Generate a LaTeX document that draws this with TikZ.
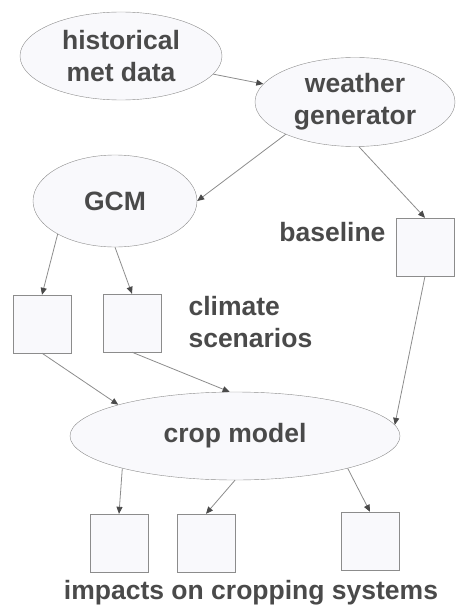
\documentclass[tikz,border=0pt]{standalone}
\usepackage{fontspec}
\setmainfont{Liberation Sans}
\usepackage{tikz}
\usetikzlibrary{shapes.geometric,arrows.meta}
\definecolor{txtgray}{HTML}{4A4A4A}
\definecolor{linegray}{HTML}{8C8C8C}
\definecolor{boxfill}{HTML}{F9F9FC}

\begin{document}
\begin{tikzpicture}[x=1pt,y=-1pt,
    every node/.style={font=\fontsize{26.5}{32}\selectfont\bfseries,text=txtgray},
    blob/.style={ellipse,draw=linegray,fill=boxfill,inner sep=0pt,align=center},
    sbox/.style={rectangle,draw=linegray,fill=boxfill,minimum width=58pt,minimum height=58pt,inner sep=0pt}]
  \useasboundingbox (0,0) rectangle (456,607);
  \node[blob,minimum width=202pt,minimum height=88pt] (hist) at (121,56) {historical\\met data};
  \node[blob,minimum width=200pt,minimum height=89pt] (wgen) at (355,102) {weather\\generator};
  \node[blob,minimum width=164pt,minimum height=92pt] (gcm) at (115,201) {GCM};
  \node[sbox] (base) at (425,247) {};
  \node[anchor=east] (baselbl) at (389,232) {baseline};
  \node[sbox] (clim1) at (42,324) {};
  \node[sbox] (clim2) at (132,323) {};
  \node[anchor=west,align=left] (climlbl) at (185,322) {climate\\scenarios};
  \node[blob,minimum width=330pt,minimum height=88pt] (crop) at (235,436) {crop model};
  \node[sbox] (imp1) at (119,543) {};
  \node[sbox] (imp2) at (206,543) {};
  \node[sbox] (imp3) at (370,541) {};
  \node (implbl) at (251,593) {impacts on cropping systems};
  \path[-{Triangle[length=7pt,width=6pt,color=txtgray]},color=linegray,line width=0.8pt]
    (hist) edge (wgen)
    (wgen.205) edge (gcm.east)
    (wgen.-85) edge (base.north)
    (gcm.210) edge (clim1.north)
    (gcm.south) edge (clim2.north)
    (clim1.south) edge (crop.165)
    (clim2.south) edge (crop.97)
    (base.south) edge (crop.4)
    (crop.196) edge (imp1.north)
    (crop.south) edge (imp2.north)
    (crop.-16) edge (imp3.north);
\end{tikzpicture}
\end{document}
